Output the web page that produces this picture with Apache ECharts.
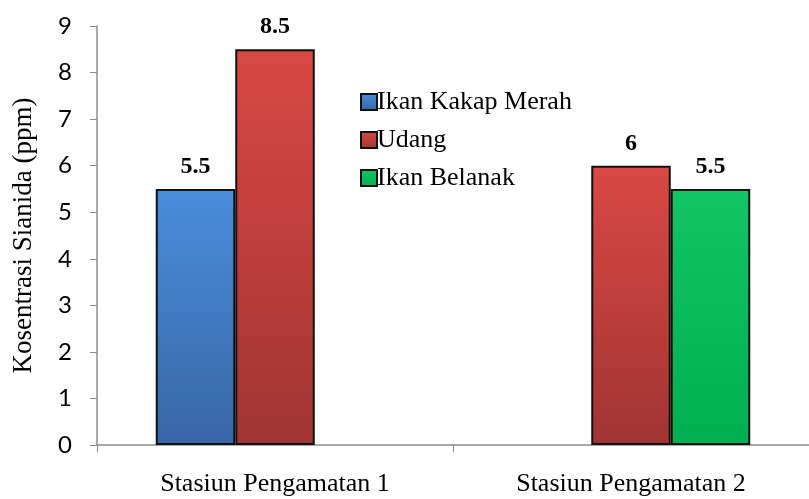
<!DOCTYPE html>
<html><head><meta charset="utf-8">
<script src="https://cdn.jsdelivr.net/npm/echarts@6/dist/echarts.min.js"></script>
<style>html,body{margin:0;padding:0;background:#fff}#c{width:809px;height:499px}</style>
</head><body><div id="c"></div>
<script>
const categories = ['Stasiun Pengamatan 1', 'Stasiun Pengamatan 2'];
const seriesNames = ['Ikan Kakap Merah', 'Udang', 'Ikan Belanak'];
const kakapMerah = [5.5, null];
const udang = [8.5, 6];
const belanak = [null, 5.5];
const yTicks = [0, 1, 2, 3, 4, 5, 6, 7, 8, 9];

function grad(top, bottom) {
  return new echarts.graphic.LinearGradient(0, 0, 0, 1, [
    {offset: 0, color: top}, {offset: 1, color: bottom}
  ]);
}
const fills = [grad('#4a8ddb', '#3766a6'), grad('#d94844', '#a13432'), grad('#12c463', '#00b050')];
const serif = '"Liberation Serif", "Times New Roman", serif';

const chart = echarts.init(document.getElementById('c'), null, {renderer: 'canvas'});
const dataSets = [kakapMerah, udang, belanak];
chart.setOption({
  animation: false,
  grid: {left: 97, right: -10, top: 26, bottom: 54, containLabel: false},
  legend: {
    left: 355, top: 84, orient: 'vertical', itemGap: 12,
    itemWidth: 16, itemHeight: 16, icon: 'rect',
    textStyle: {fontFamily: serif, fontSize: 26, lineHeight: 26, color: '#000', padding: [0, 0, 0, -5]},
    data: seriesNames
  },
  xAxis: {
    type: 'category', data: categories,
    axisLine: {lineStyle: {color: '#8c8c8c', width: 1.5}},
    axisTick: {show: true, alignWithLabel: false, length: 7, lineStyle: {color: '#8c8c8c'}},
    axisLabel: {fontFamily: serif, fontSize: 26, color: '#000', margin: 26}
  },
  yAxis: {
    type: 'value', min: yTicks[0], max: yTicks[yTicks.length - 1], interval: 1,
    name: 'Kosentrasi Sianida (ppm)', nameLocation: 'middle', nameGap: 60,
    nameTextStyle: {fontFamily: serif, fontSize: 27, color: '#000'},
    axisLine: {show: true, lineStyle: {color: '#8c8c8c', width: 1.5}},
    axisTick: {show: true, length: 7, lineStyle: {color: '#8c8c8c'}},
    splitLine: {show: false},
    axisLabel: {fontFamily: 'Lato, "Open Sans", sans-serif', fontSize: 24, color: '#000', margin: 25}
  },
  series: seriesNames.map((n, i) => ({
    name: n, type: 'bar', data: dataSets[i],
    barGap: '0%', barCategoryGap: '33%',
    itemStyle: {color: fills[i], borderColor: '#111', borderWidth: 2},
    label: {show: true, position: 'top', distance: 10, fontFamily: serif, fontWeight: 'bold', fontSize: 24, color: '#000'}
  }))
});
</script></body></html>
